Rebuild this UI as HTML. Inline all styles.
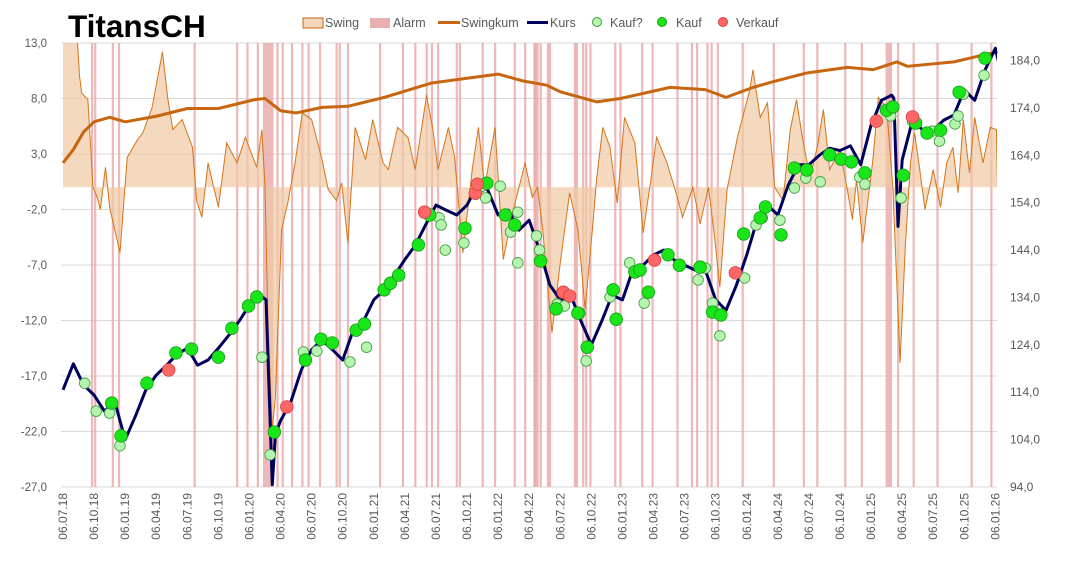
<!DOCTYPE html>
<html><head><meta charset="utf-8"><style>
body{margin:0;background:#fff;width:1066px;height:556px;overflow:hidden;font-family:"Liberation Sans",sans-serif}
svg text{font-family:"Liberation Sans",sans-serif}
</style></head><body>
<svg id="chart" width="1066" height="556" xmlns="http://www.w3.org/2000/svg">
<text x="68" y="37" font-size="31.5" font-weight="bold" fill="#000">TitansCH</text>
<g font-size="12.5" fill="#595959">
<rect x="303" y="18" width="20" height="10" fill="#f4d6ba" stroke="#c8650f" stroke-width="1"/>
<text x="325" y="27">Swing</text>
<rect x="370" y="18" width="20" height="10" fill="#e8b0b0"/>
<text x="393" y="27">Alarm</text>
<line x1="438" y1="22.5" x2="460" y2="22.5" stroke="#c8650f" stroke-width="3"/>
<text x="461" y="27">Swingkum</text>
<line x1="527" y1="22.5" x2="548" y2="22.5" stroke="#00005e" stroke-width="3"/>
<text x="550" y="27">Kurs</text>
<circle cx="597" cy="22" r="4.5" fill="#b6f5b0" stroke="#3a9a3a"/>
<text x="610" y="27">Kauf?</text>
<circle cx="662" cy="22" r="4.5" fill="#19e619" stroke="#1a9a1a"/>
<text x="676" y="27">Kauf</text>
<circle cx="723" cy="22" r="4.5" fill="#ff6666" stroke="#d04040"/>
<text x="736" y="27">Verkauf</text>
</g>
<g id="grid"></g><g id="alarm"></g><g id="swing"></g><g id="swingkum"></g><g id="kurs"></g><g id="marks"></g><g id="axes"></g>
</svg>
<script>
// ---- data ----
const xLabels=["06.07.18","06.10.18","06.01.19","06.04.19","06.07.19","06.10.19","06.01.20","06.04.20","06.07.20","06.10.20","06.01.21","06.04.21","06.07.21","06.10.21","06.01.22","06.04.22","06.07.22","06.10.22","06.01.23","06.04.23","06.07.23","06.10.23","06.01.24","06.04.24","06.07.24","06.10.24","06.01.25","06.04.25","06.07.25","06.10.25","06.01.26"];
const leftTicks=[13,8,3,-2,-7,-12,-17,-22,-27];
const rightTicks=[184,174,164,154,144,134,124,114,104,94];
// times in months since 06.07.18
const kursT=[0,1,2,3,4,5,6,7,8,9,10,11,12,13,14,15,16,17,18,19,19.6,20.2,20.5,21,22,23,24,25,26,27,28,29,30,31,32,33,34,35,36,37,38,39,40,41,42,43,44,45,46,47,48,49,50,51,52,53,54,55,56,57,58,59,60,61,62,63,64,65,66,67,68,69,70,71,72,73,74,75,76,77,78,79,80,80.2,80.6,81,82,83,84,85,86,87,88,89,90,90.3];
const kursV=[114.5,120,115.5,113.4,110,112,104,109,114.5,117.6,119.7,122,123.3,119.7,120.8,123.3,126,129,132.4,134.5,133.5,94.5,105,108,112,118.7,123,125,123,120.8,127,129,133.5,135.6,138.7,142,145,149.3,153.5,152.4,151.4,153.5,157.7,156.7,151.4,152.4,148.2,150.3,144,136.6,133.5,134.5,129,124,129,134.5,133.5,139.8,140.8,143,144,141.9,140.8,139.8,139.8,133.5,131.3,136.6,143,150.3,153.5,151.4,157.7,162,162,164,165.5,165,166,162,170.4,175.6,176.7,176,149,163,171.4,169.3,169.3,171.4,172.5,177.8,175.6,182,186.6,183.7];
const swingT=[0,1.2,1.6,1.8,2.4,2.9,3.3,3.6,4.1,4.5,5.5,6.2,7.2,7.7,8.6,9.6,10.1,10.6,11.5,12.5,12.9,13.4,14.0,15.0,15.8,16.8,17.6,18.7,19.2,19.5,19.8,20.2,20.5,21.1,21.7,22.4,23.1,24.0,25.0,25.6,26.4,26.9,27.5,28.2,29.2,29.9,30.9,31.4,32.3,33.3,34.0,35.1,35.7,36.2,37.2,37.8,38.6,39.5,40.1,40.7,41.7,42.5,43.3,44.6,45.3,45.8,46.3,47.2,48.0,48.9,49.7,50.4,51.1,51.5,52.1,52.8,53.5,54.2,55.2,56.0,56.7,57.3,58.3,59.3,59.8,60.8,61.5,62.3,62.9,63.4,64.1,65.1,66.3,66.6,67.3,68.0,68.7,69.5,70.2,70.8,71.4,72.1,72.8,73.4,74.0,75.0,75.7,76.2,76.6,77.2,78.2,78.7,79.5,80.1,80.8,81.3,81.8,82.2,82.7,83.2,84.0,84.7,85.3,85.9,86.4,86.9,87.5,88.0,88.8,89.5,90.1,90.2];
const swingV=[16,16,10,8.5,7.9,0,-0.9,-2.0,1.8,-1.8,-5.9,2.7,4.3,4.9,7.2,12.2,8.1,5.2,6.1,3.6,-1.2,-2.7,2.2,-1.8,4.0,2.2,4.5,1.8,5.2,0,-12.9,-21.9,-18.9,-3.8,-1.4,2.2,6.7,6.1,2.5,-0.2,-1.2,0.4,-5.0,5.4,2.5,6.1,2.2,1.6,5.4,4.5,1.6,8.3,5.2,1.6,5.4,2.7,-5.9,1.6,5.4,0,5.4,-6.5,-2.7,2.2,-0.9,0,-3.8,-13.1,-6.8,-0.5,-3.8,-11.0,-3.8,0.7,5.4,3.6,-1.4,6.3,4.0,-4.1,0.4,4.5,2.2,-0.9,-2.7,0,-3.3,0,-4.5,-9.0,-0.2,4.5,8.8,10.6,6.3,7.6,0,-1.2,5.2,7.9,4.3,0.9,3.6,7.0,1.6,3.4,-0.2,-2.9,0.7,-5.0,2.7,8.1,7.2,0,-15.8,-5.4,2.2,4.9,1.6,-2.0,1.6,-1.8,2.2,3.6,-0.5,6.1,1.3,6.3,2.2,5.4,5.2,0];
const swingkumT=[0,1,2,3,4.5,6,9,12,15,18.5,19.5,21,22.5,25,27.5,31,35.6,38,42,44.3,46.7,48,51.5,53.8,58.6,62,64,66.6,68.5,71.8,75.7,78.2,80.5,81.5,86,89.2,90.2];
const swingkumV=[2.2,3.4,5.0,5.9,6.3,5.9,6.4,7.1,7.1,7.9,8.0,6.9,6.7,7.2,7.3,8.1,9.4,9.7,10.2,9.6,9.2,8.6,7.7,8.0,9.0,8.8,8.1,9.0,9.5,10.3,10.8,10.6,11.3,10.9,11.3,12.0,12.2];
const alarmT=[2.8,3.1,4.8,5.4,12.7,16.8,17.8,18.8,19.4,19.6,19.8,20.0,20.2,20.7,21.2,22.1,23.1,23.7,24.8,26.4,26.7,27.5,30.6,32.8,34.0,35.1,35.6,36.2,38.0,38.3,40.5,41.7,43.6,44.6,45.5,45.6,45.8,46.1,46.8,47.0,49.4,49.6,50.2,50.5,50.9,53.3,53.8,55.9,56.9,59.3,60.7,61.2,62.2,62.6,63.2,65.6,68.6,71.5,72.8,75.5,77.1,79.5,79.7,79.9,80.6,82.1,84.4,87.7,89.6];
const kaufQT=[2.1,3.2,4.5,5.5,19.2,20.0,23.2,24.5,27.7,29.3,36.3,36.5,36.9,38.7,40.5,40.8,42.2,43.2,43.9,43.9,45.7,46.0,47.7,48.4,49.9,50.5,52.8,54.7,56.1,61.3,62.0,62.7,63.4,65.8,66.9,67.5,69.2,70.6,71.7,73.1,76.9,77.4,79.9,80.9,82.0,83.9,84.6,86.1,86.4,86.9,88.9];
const kaufQV=[115.9,110.0,109.6,102.7,121.4,100.8,122.5,122.7,120.4,123.5,150.8,149.3,144.0,145.5,157.5,155.0,157.5,147.8,152.0,141.3,147.0,144.0,132.6,132.2,130.7,120.6,134.1,141.3,132.8,137.7,140.2,132.8,125.9,138.1,149.3,150.8,150.3,157.1,159.2,158.4,159.4,157.9,172.3,155.0,171.2,169.1,167.0,170.6,172.3,176.9,180.9];
const kaufT=[4.7,5.6,8.1,10.9,12.4,15.0,16.3,17.9,18.7,20.4,23.4,24.9,26.0,28.3,29.1,31.0,31.6,32.4,34.3,35.4,38.8,40.9,42.7,43.6,46.1,47.6,49.7,50.6,53.1,53.4,55.2,55.7,56.5,58.4,59.5,61.5,62.7,63.5,65.7,67.3,67.8,69.3,70.6,71.8,74.0,75.1,76.1,77.4,79.5,80.1,81.1,82.3,83.4,84.7,86.5,89.0];
const kaufV=[111.7,104.8,115.9,122.3,123.1,121.4,127.5,132.2,134.1,105.6,120.8,125.2,124.4,127.1,128.4,135.6,137.0,138.7,145.1,151.4,148.6,158.1,151.4,149.3,141.7,131.6,130.7,123.5,135.6,129.4,139.4,139.8,135.1,143.0,140.8,140.4,130.9,130.3,147.4,150.8,153.1,147.2,161.3,160.9,164.1,163.2,162.6,160.3,173.5,174.2,159.8,170.8,168.7,169.3,177.3,184.5];
const verkaufT=[10.2,21.6,34.9,39.8,40.0,48.3,48.9,57.1,64.9,78.5,82.0];
const verkaufV=[118.7,110.9,152.0,156.0,157.9,135.1,134.3,141.9,139.2,171.2,172.1];

// ---- scales ----
const X0=63,MW=10.36,PT=43,PB=487,PL=61,PR=997;
const x=t=>X0+t*MW;
const yL=v=>PT+(13-v)*(PB-PT)/40;
const yR=v=>PB-(v-94)*(PB-PT)/93.7;
const NS="http://www.w3.org/2000/svg";
function mk(tag,attrs,parent){const e=document.createElementNS(NS,tag);for(const k in attrs)e.setAttribute(k,attrs[k]);parent.appendChild(e);return e;}
const G=id=>document.getElementById(id);

leftTicks.forEach(v=>{
  const l=mk('line',{x1:PL,x2:PR,y1:yL(v),y2:yL(v),stroke:'#d9d9d9','stroke-width':1},G('grid'));
  
  
  const t=mk('text',{x:47,y:yL(v)+4,'text-anchor':'end','font-size':11.5,fill:'#595959'},G('axes'));
  t.textContent=v.toFixed(1).replace('.',',');
  
  
});
rightTicks.forEach(v=>{
  const t=mk('text',{x:1010,y:yR(v)+4,'font-size':12,fill:'#595959'},G('axes'));
  t.textContent=v.toFixed(1).replace('.',',');
  
  
});
xLabels.forEach((s,i)=>{
  const xx=x(i*3);
  const t=mk('text',{x:0,y:0,'text-anchor':'end','font-size':12,fill:'#595959',transform:`translate(${xx+4},493) rotate(-90)`},G('axes'));
  t.textContent=s;
  
  
});
alarmT.forEach(t=>{
  const r=mk('rect',{x:x(t)-1,y:PT,width:2.2,height:PB-PT,fill:'#e7a6a6','fill-opacity':0.8},G('alarm'));
  
  
});
const clip=mk('clipPath',{id:'pc'},G('chart'));mk('rect',{x:PL,y:PT,width:PR-PL,height:PB-PT},clip);
let d=`M${x(swingT[0])},${yL(0)}`;swingT.forEach((t,i)=>d+=`L${x(t)},${yL(swingV[i])}`);d+=`L${x(swingT[swingT.length-1])},${yL(0)}Z`;
const sa=mk('path',{d,fill:'#f0c9a4','fill-opacity':0.7,'clip-path':'url(#pc)'},G('swing'));


let d2='';swingT.forEach((t,i)=>d2+=(i?'L':'M')+x(t)+','+yL(swingV[i]));
const sl=mk('path',{d:d2,fill:'none',stroke:'#d4751a','stroke-width':1,'clip-path':'url(#pc)'},G('swing'));


let d3='';swingkumT.forEach((t,i)=>d3+=(i?'L':'M')+x(t)+','+yL(swingkumV[i]));
const sk=mk('path',{d:d3,fill:'none',stroke:'#c8650f','stroke-width':3,'stroke-linejoin':'round'},G('swingkum'));


let d4='';kursT.forEach((t,i)=>d4+=(i?'L':'M')+x(t)+','+yR(kursV[i]));
const kl=mk('path',{d:d4,fill:'none',stroke:'#00005e','stroke-width':3,'stroke-linejoin':'round','clip-path':'url(#pc)'},G('kurs'));


kaufQT.forEach((t,i)=>{const c=mk('circle',{cx:x(t),cy:yR(kaufQV[i]),r:5.3,fill:'#b6f5b0',stroke:'#3a9a3a','stroke-width':0.8},G('marks'));
  
  });
kaufT.forEach((t,i)=>{const c=mk('circle',{cx:x(t),cy:yR(kaufV[i]),r:6.3,fill:'#19e619',stroke:'#1a9a1a','stroke-width':0.8},G('marks'));
  
  });
verkaufT.forEach((t,i)=>{const c=mk('circle',{cx:x(t),cy:yR(verkaufV[i]),r:6.3,fill:'#ff6666',stroke:'#d04040','stroke-width':0.8},G('marks'));
  
  });
</script>
</body></html>
